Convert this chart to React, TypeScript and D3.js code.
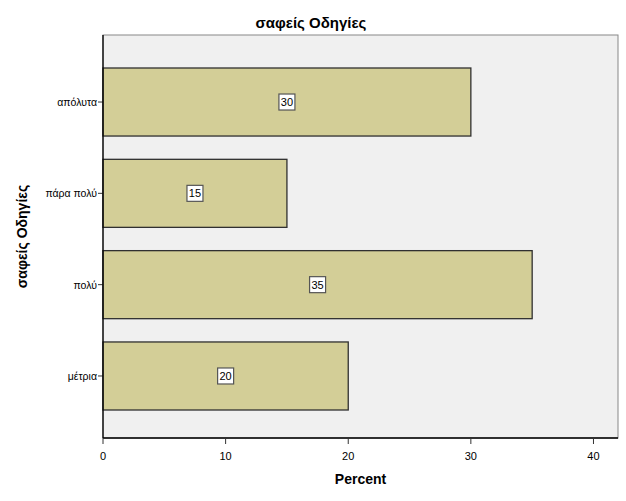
import React from "react";
import * as d3 from "d3";

const categories = ["απόλυτα", "πάρα πολύ", "πολύ", "μέτρια"];
const percents = [30, 15, 35, 20];
const xTicks = [0, 10, 20, 30, 40];
const title = "σαφείς Οδηγίες";
const yTitle = "σαφείς Οδηγίες";
const xTitle = "Percent";

const W = 626;
const H = 501;
const left = 103;
const right = 618;
const top = 35;
const bottom = 438;

export default function App() {
  const x = d3.scaleLinear().domain([0, 42]).range([left, right]);
  const y = d3
    .scaleBand<string>()
    .domain(categories)
    .range([top + 2.5, bottom + 2.5])
    .paddingInner(0.255)
    .paddingOuter(0.334);
  const bw = y.bandwidth();
  const font = "Arial, 'Liberation Sans', sans-serif";
  return (
    <svg width={W} height={H} style={{ position: "absolute", left: 0, top: 0 }} fontFamily={font}>
      <rect x={0} y={0} width={W} height={H} fill="#ffffff" />
      <text x={311} y={28} textAnchor="middle" fontSize={15} fontWeight="bold" fill="#000">
        {title}
      </text>
      <rect x={left} y={top} width={right - left} height={bottom - top} fill="#f0f0f0" stroke="#888" strokeWidth={1} />
      {categories.map((c, i) => {
        const y0 = y(c)!;
        const v = percents[i];
        const xm = x(v / 2);
        return (
          <g key={c}>
            <rect x={x(0)} y={y0} width={x(v) - x(0)} height={bw} fill="#d3ce97" stroke="#303030" strokeWidth={1.3} />
            <rect x={xm - 8} y={y0 + bw / 2 - 8} width={16} height={16} fill="#fff" stroke="#555" strokeWidth={1.2} />
            <text x={xm} y={y0 + bw / 2 + 4} textAnchor="middle" fontSize={11} fill="#000">
              {v}
            </text>
            <line x1={left - 5} x2={left} y1={y0 + bw / 2} y2={y0 + bw / 2} stroke="#333" />
            <text x={left - 6} y={y0 + bw / 2 + 4} textAnchor="end" fontSize={10.5} fill="#000">
              {c}
            </text>
          </g>
        );
      })}
      <line x1={left} x2={left} y1={top} y2={bottom} stroke="#000" strokeWidth={1.3} />
      <line x1={left} x2={right} y1={bottom} y2={bottom} stroke="#000" strokeWidth={1.3} />
      {xTicks.map((t) => (
        <g key={t}>
          <line x1={x(t)} x2={x(t)} y1={bottom} y2={bottom + 6} stroke="#333" />
          <text x={x(t)} y={bottom + 22} textAnchor="middle" fontSize={11} fill="#000">
            {t}
          </text>
        </g>
      ))}
      <text x={(left + right) / 2} y={484} textAnchor="middle" fontSize={14} fontWeight="bold" fill="#000">
        {xTitle}
      </text>
      <text
        transform={`translate(27, ${(top + bottom) / 2}) rotate(-90)`}
        textAnchor="middle"
        fontSize={14}
        fontWeight="bold"
        fill="#000"
      >
        {yTitle}
      </text>
    </svg>
  );
}
